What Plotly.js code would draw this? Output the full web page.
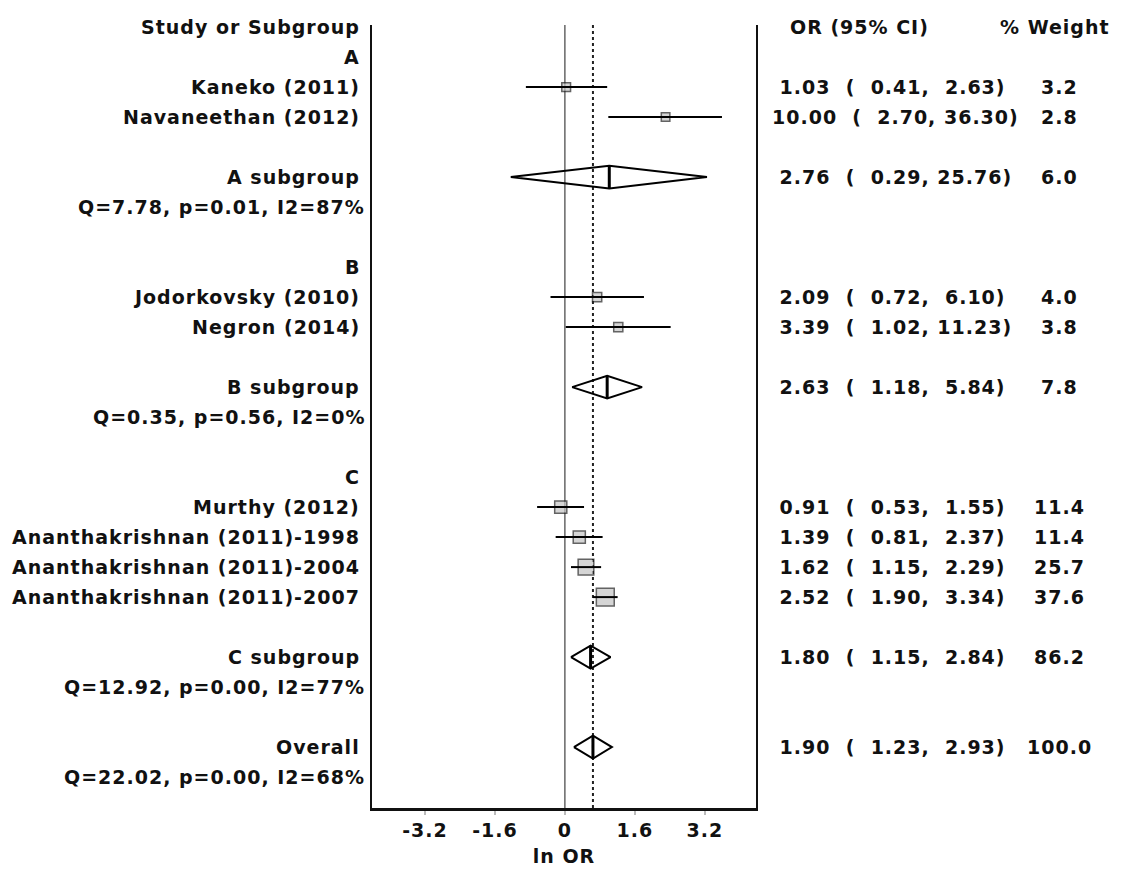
<!DOCTYPE html>
<html>
<head>
<meta charset="utf-8">
<script src="https://cdn.plot.ly/plotly-3.0.1.min.js"></script>
<style>html,body{margin:0;padding:0;background:#fff;} svg text{letter-spacing:1px;}</style>
</head>
<body>
<div id="chart" style="width:1123px;height:870px;"></div>
<script>
// ---- data ----
var studyLabels = ["Kaneko (2011)", "Navaneethan (2012)", "Jodorkovsky (2010)", "Negron (2014)",
  "Murthy (2012)", "Ananthakrishnan (2011)-1998", "Ananthakrishnan (2011)-2004", "Ananthakrishnan (2011)-2007"];
var studyGroup = ["A", "A", "B", "B", "C", "C", "C", "C"];
var studyOR = [1.03, 10.00, 2.09, 3.39, 0.91, 1.39, 1.62, 2.52];
var studyLo = [0.41, 2.70, 0.72, 1.02, 0.53, 0.81, 1.15, 1.90];
var studyHi = [2.63, 36.30, 6.10, 11.23, 1.55, 2.37, 2.29, 3.34];
var studyWeight = [3.2, 2.8, 4.0, 3.8, 11.4, 11.4, 25.7, 37.6];

var groupNames = ["A", "B", "C"];
var groupOR = [2.76, 2.63, 1.80];
var groupLo = [0.29, 1.18, 1.15];
var groupHi = [25.76, 5.84, 2.84];
var groupWeight = [6.0, 7.8, 86.2];
var groupHet = ["Q=7.78, p=0.01, I2=87%", "Q=0.35, p=0.56, I2=0%", "Q=12.92, p=0.00, I2=77%"];

var overallLabel = "Overall";
var overallOR = 1.90, overallLo = 1.23, overallHi = 2.93, overallWeight = 100.0;
var overallHet = "Q=22.02, p=0.00, I2=68%";

var tickVals = [-3.2, -1.6, 0, 1.6, 3.2];
var tickText = ["-3.2", "-1.6", "0", "1.6", "3.2"];
var xTitle = "ln OR";
var headerStudy = "Study or Subgroup", headerOR = "OR (95% CI)", headerW = "% Weight";

// ---- layout of rows ----
var rows = [];
rows.push({type: "header"});
groupNames.forEach(function (g, gi) {
  rows.push({type: "group", label: g});
  studyLabels.forEach(function (s, i) {
    if (studyGroup[i] === g) rows.push({type: "study", idx: i});
  });
  rows.push({type: "blank"});
  rows.push({type: "sub", idx: gi});
  rows.push({type: "het", text: groupHet[gi]});
  rows.push({type: "blank"});
});
rows.push({type: "overall"});
rows.push({type: "het", text: overallHet});

var L = 372, R = 756, W = 1123, H = 870;
function px(x) { return (x - L) / (R - L); }
var FONT = {family: "DejaVu Sans, Verdana, sans-serif", size: 19, color: "#111", weight: "bold"};
function pad(s, n) { while (s.length < n) s = " " + s; return s; }
function ciText(or, lo, hi) {
  return pad(or.toFixed(2), 5) + "  (  " + pad(lo.toFixed(2), 5).replace(/^ /, "") + ", " + pad(hi.toFixed(2), 5) + ")";
}

var ann = [];
function addLeft(text, r, shift) {
  ann.push({text: text, x: px(362), xref: "paper", xanchor: "right", y: r, yref: "y", yanchor: "middle",
    showarrow: false, font: FONT, xshift: shift || 0});
}
function addRight(or, lo, hi, w, r) {
  ann.push({text: ciText(or, lo, hi), x: px(770), xref: "paper", xanchor: "left", y: r, yref: "y",
    yanchor: "middle", showarrow: false, font: FONT});
  ann.push({text: w.toFixed(1), x: px(1059), xref: "paper", xanchor: "center", y: r, yref: "y",
    yanchor: "middle", showarrow: false, font: FONT});
}

var mx = [], my = [], msize = [];
var lx = [], ly = [];
var dx = [], dy = [], vx = [], vy = [];
var h = 0.38;
function diamond(or, lo, hi, r) {
  var e = Math.log(or), a = Math.log(lo), b = Math.log(hi);
  dx.push(a, e, b, e, a, null); dy.push(r, r - h, r, r + h, r, null);
  vx.push(e, e, null); vy.push(r - h, r + h, null);
}

rows.forEach(function (row, r) {
  if (row.type === "header") {
    addLeft(headerStudy, r);
    ann.push({text: headerOR, x: px(788), xref: "paper", xanchor: "left", y: r, yref: "y", yanchor: "middle", showarrow: false, font: FONT});
    ann.push({text: headerW, x: px(998), xref: "paper", xanchor: "left", y: r, yref: "y", yanchor: "middle", showarrow: false, font: FONT});
  } else if (row.type === "group") {
    addLeft(row.label, r);
  } else if (row.type === "study") {
    var i = row.idx;
    addLeft(studyLabels[i], r);
    addRight(studyOR[i], studyLo[i], studyHi[i], studyWeight[i], r);
    mx.push(Math.log(studyOR[i])); my.push(r); msize.push(5 + 2.1 * Math.sqrt(studyWeight[i]));
    lx.push(Math.log(studyLo[i]), Math.log(studyHi[i]), null); ly.push(r, r, null);
  } else if (row.type === "sub") {
    var gi = row.idx;
    addLeft(groupNames[gi] + " subgroup", r);
    addRight(groupOR[gi], groupLo[gi], groupHi[gi], groupWeight[gi], r);
    diamond(groupOR[gi], groupLo[gi], groupHi[gi], r);
  } else if (row.type === "het") {
    addLeft(row.text, r, 5);
  } else if (row.type === "overall") {
    addLeft(overallLabel, r);
    addRight(overallOR, overallLo, overallHi, overallWeight, r);
    diamond(overallOR, overallLo, overallHi, r);
  }
});

var traces = [
  {x: mx, y: my, mode: "markers", type: "scatter", hoverinfo: "skip",
   marker: {symbol: "square", size: msize, color: "#c4c4c4", line: {color: "#222", width: 1.5}}},
  {x: lx, y: ly, mode: "lines", type: "scatter", hoverinfo: "skip", line: {color: "#000", width: 2}},
  {x: dx, y: dy, mode: "lines", type: "scatter", hoverinfo: "skip", line: {color: "#000", width: 2}},
  {x: vx, y: vy, mode: "lines", type: "scatter", hoverinfo: "skip", line: {color: "#000", width: 3}}
];

var layout = {
  width: W, height: H,
  margin: {l: L, r: W - R, t: 25, b: 62},
  paper_bgcolor: "#fff", plot_bgcolor: "#fff",
  showlegend: false,
  xaxis: {range: [-4.41, 4.37], tickvals: tickVals, ticktext: tickText, ticks: "outside", ticklen: 4,
    tickcolor: "#bbb", tickwidth: 1.5, showgrid: false, zeroline: false, showline: true, linecolor: "#111", linewidth: 2.5,
    tickfont: FONT, title: {text: xTitle, font: FONT, standoff: 10}},
  yaxis: {range: [26.03, -0.07], showgrid: false, zeroline: false, showticklabels: false, ticks: "",
    showline: true, mirror: true, linecolor: "#111", linewidth: 2},
  shapes: [
    {type: "line", xref: "x", yref: "paper", x0: 0, x1: 0, y0: 0, y1: 1, layer: "below", line: {color: "#666", width: 1.5}},
    {type: "line", xref: "x", yref: "paper", x0: Math.log(overallOR), x1: Math.log(overallOR), y0: 0, y1: 1, layer: "below",
     line: {color: "#222", width: 2, dash: "dot"}}
  ],
  annotations: ann
};
Plotly.newPlot("chart", traces, layout, {staticPlot: true, displayModeBar: false});
</script>
</body>
</html>
